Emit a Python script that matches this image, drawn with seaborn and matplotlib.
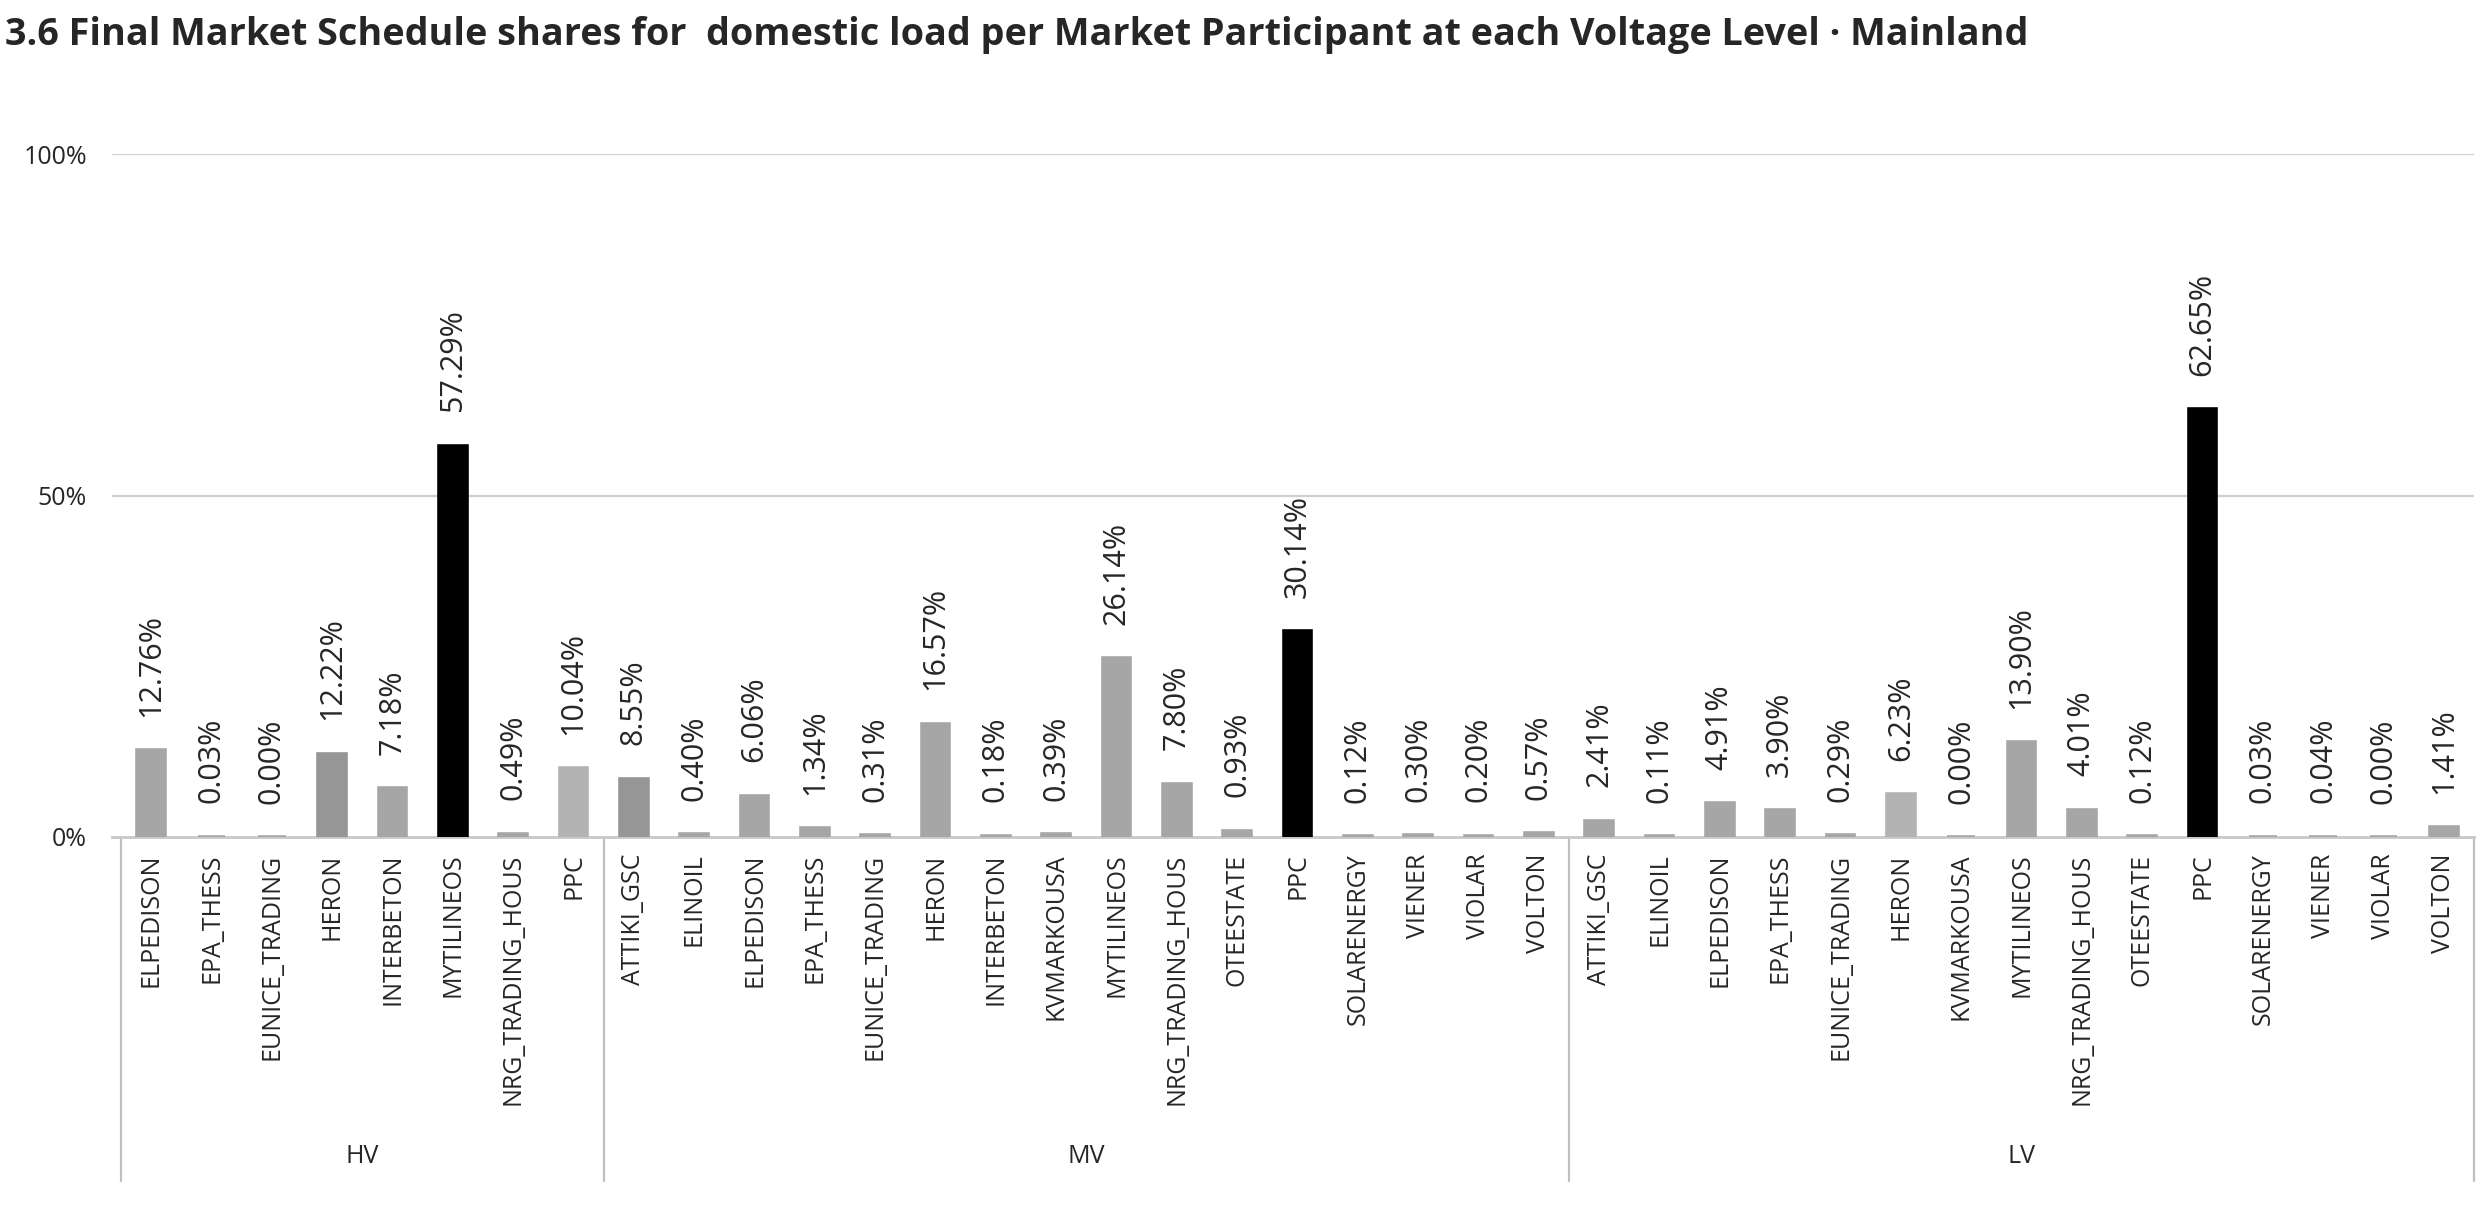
import seaborn as sns
import numpy as np
import matplotlib.pyplot as plt

# voltage level groups and their participants
levels = ['HV', 'MV', 'LV']
hv_names = ['ELPEDISON', 'EPA_THESS', 'EUNICE_TRADING', 'HERON', 'INTERBETON',
            'MYTILINEOS', 'NRG_TRADING_HOUS', 'PPC']
hv_share = [12.76, 0.03, 0.00, 12.22, 7.18, 57.29, 0.49, 10.04]

mv_names = ['ATTIKI_GSC', 'ELINOIL', 'ELPEDISON', 'EPA_THESS', 'EUNICE_TRADING',
            'HERON', 'INTERBETON', 'KVMARKOUSA', 'MYTILINEOS', 'NRG_TRADING_HOUS',
            'OTEESTATE', 'PPC', 'SOLARENERGY', 'VIENER', 'VIOLAR', 'VOLTON']
mv_share = [8.55, 0.40, 6.06, 1.34, 0.31, 16.57, 0.18, 0.39, 26.14, 7.80,
            0.93, 30.14, 0.12, 0.30, 0.20, 0.57]

lv_names = ['ATTIKI_GSC', 'ELINOIL', 'ELPEDISON', 'EPA_THESS', 'EUNICE_TRADING',
            'HERON', 'KVMARKOUSA', 'MYTILINEOS', 'NRG_TRADING_HOUS', 'OTEESTATE',
            'PPC', 'SOLARENERGY', 'VIENER', 'VIOLAR', 'VOLTON']
lv_share = [2.41, 0.11, 4.91, 3.90, 0.29, 6.23, 0.00, 13.90, 4.01, 0.12,
            62.65, 0.03, 0.04, 0.00, 1.41]

y_ticks = [0, 50, 100]
y_tick_labels = ['0%', '50%', '100%']

title = '3.6 Final Market Schedule shares for  domestic load per Market Participant at each Voltage Level · Mainland'

# bar shades (excel picked a few different greys, biggest one per level in black)
hv_colors = ['#a6a6a6', '#a6a6a6', '#a6a6a6', '#969696', '#a6a6a6', '#000000', '#a6a6a6', '#b3b3b3']
mv_colors = ['#969696'] + ['#a6a6a6'] * 10 + ['#000000'] + ['#a6a6a6'] * 4
lv_colors = ['#a6a6a6'] * 5 + ['#b3b3b3'] + ['#a6a6a6'] * 4 + ['#000000'] + ['#a6a6a6'] * 4

groups = [(levels[0], hv_names, hv_share), (levels[1], mv_names, mv_share), (levels[2], lv_names, lv_share)]
keys, names, shares = [], [], []
for lvl, nm, sh in groups:
    keys += [f'{lvl}|{n}' for n in nm]
    names += nm
    shares += sh
colors = hv_colors + mv_colors + lv_colors

sns.set_style('white')
plt.rcParams['font.family'] = ['Open Sans', 'DejaVu Sans']

W, H = 2485, 1209
fig = plt.figure(figsize=(W / 100, H / 100), dpi=100)
ax = fig.add_axes([112 / W, 372 / H, (2474 - 112) / W, 683 / H])

sns.barplot(x=keys, y=shares, hue=keys, palette=colors, order=keys, legend=False,
            width=0.46, saturation=1, linewidth=2.6, ax=ax)
# edge in the bar colour so that 0% bars still show a small stub like excel
for bar, c in zip(ax.patches, colors):
    bar.set_edgecolor(c)
    bar.set_zorder(3)

ax.set_xlim(-0.65, len(keys) - 0.5)
ax.set_ylim(0, 100)
ax.set_yticks(y_ticks)
ax.set_yticklabels(y_tick_labels, fontsize=18)
ax.tick_params(axis='y', length=0, pad=18)
ax.set_xticks(range(len(keys)))
ax.set_xticklabels(names, rotation=90, fontsize=18, va='top', ha='center')
ax.tick_params(axis='x', length=0, pad=12)
for s in ['top', 'right', 'left']:
    ax.spines[s].set_visible(False)
ax.spines['bottom'].set_color('#c8c8c8')
ax.spines['bottom'].set_linewidth(2)
for yv in y_ticks[1:]:
    ax.axhline(yv, color='#d0d0d0', lw=1.6, zorder=0)

# value labels above the bars
for i, v in enumerate(shares):
    ax.annotate(f'{v:.2f}%', xy=(i, v), xytext=(0, 24), textcoords='offset points',
                rotation=90, ha='center', va='bottom', fontsize=22)

# group separators and level names below the tick labels
trans = ax.get_xaxis_transform()
start = 0
bounds = [-0.5]
for lvl, nm, sh in groups:
    end = start + len(nm)
    bounds.append(end - 0.5)
    ax.text((start + end - 1) / 2, -0.468, lvl, transform=trans, ha='center', va='center', fontsize=18)
    start = end
for b in bounds:
    ax.plot([b, b], [0, -0.504], color='#c0c0c0', lw=1.6, transform=trans, clip_on=False)

fig.text(5 / W, 1 - 35 / H, title, fontsize=27.2, fontweight='bold', ha='left', va='center')

plt.savefig('out.png', dpi=100)
